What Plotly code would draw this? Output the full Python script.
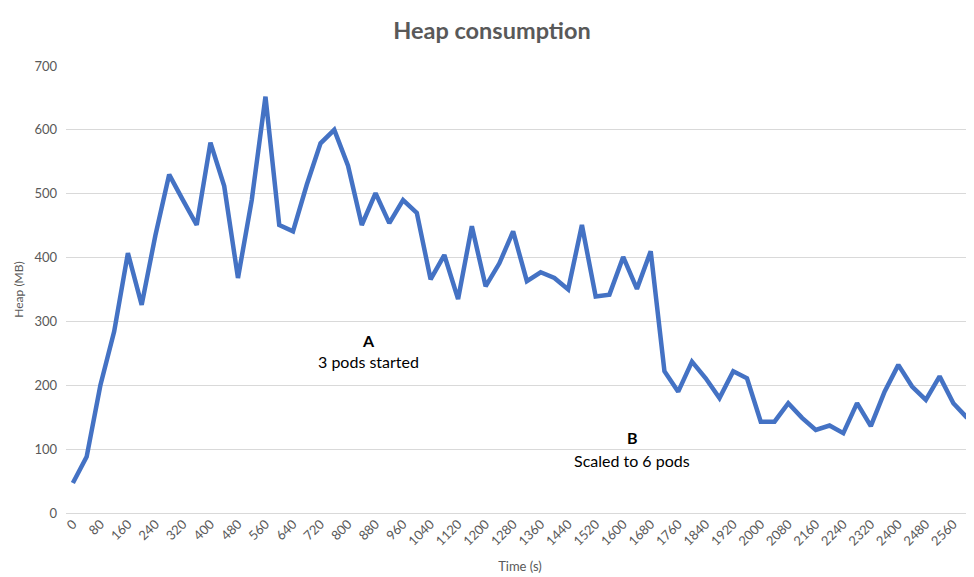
import plotly.graph_objects as go

# samples every 40 s
time_s = list(range(0, 2640, 40))
heap_mb = [
    47, 88, 200, 284, 407, 326, 435, 530, 490, 451,
    580, 512, 368, 490, 652, 451, 441, 514, 579, 600,
    544, 451, 501, 454, 490, 470, 366, 404, 335, 449,
    355, 391, 441, 363, 377, 368, 350, 451, 339, 342,
    401, 351, 410, 222, 190, 237, 211, 180, 222, 211,
    143, 143, 172, 149, 130, 137, 125, 172, 136, 190,
    232, 198, 177, 214, 172, 149,
]
tick_vals = list(range(0, 2600, 80))

notes = [
    (860, 270, "<b>A</b>"),
    (860, 237, "3 pods started"),
    (1626, 118, "<b>B</b>"),
    (1626, 82, "Scaled to 6 pods"),
]

grey = "#595959"
font_family = "Lato, 'Open Sans', sans-serif"

fig = go.Figure()

fig.add_trace(
    go.Scatter(
        x=time_s,
        y=heap_mb,
        mode="lines",
        line=dict(color="#4472C4", width=4.5),
        showlegend=False,
        cliponaxis=False,
    )
)

for x, y, txt in notes:
    fig.add_annotation(
        x=x, y=y, text=txt, showarrow=False,
        font=dict(family=font_family, size=16, color="#000000"),
    )

# page body has an 8px margin, so the figure is a bit smaller
fig.update_layout(
    width=966,
    height=569,
    template="plotly_white",
    paper_bgcolor="white",
    plot_bgcolor="white",
    margin=dict(l=58, r=0, t=58, b=64),
    font=dict(family=font_family, color=grey),
    title=dict(
        text="<b>Heap consumption</b>",
        x=0.501,
        xanchor="center",
        y=0.96,
        yanchor="middle",
        font=dict(size=23.5, color=grey, family=font_family),
    ),
    xaxis=dict(
        range=[-20, 2620],
        tickvals=tick_vals,
        tickangle=-45,
        tickfont=dict(size=13, color=grey),
        showgrid=False,
        zeroline=False,
        showline=False,
        ticks="",
        automargin=False,
        title=dict(text="Time (s)", font=dict(size=13, color=grey), standoff=14),
    ),
    yaxis=dict(
        range=[0, 700],
        dtick=100,
        tickfont=dict(size=13, color=grey),
        ticklabelstandoff=8,
        showgrid=True,
        gridcolor="#d9d9d9",
        gridwidth=1,
        zeroline=True,
        zerolinecolor="#d9d9d9",
        zerolinewidth=1,
        ticks="",
        automargin=False,
        title=dict(text="Heap (MB)", font=dict(size=12, color=grey), standoff=8),
    ),
)

fig.write_html("out.html")
